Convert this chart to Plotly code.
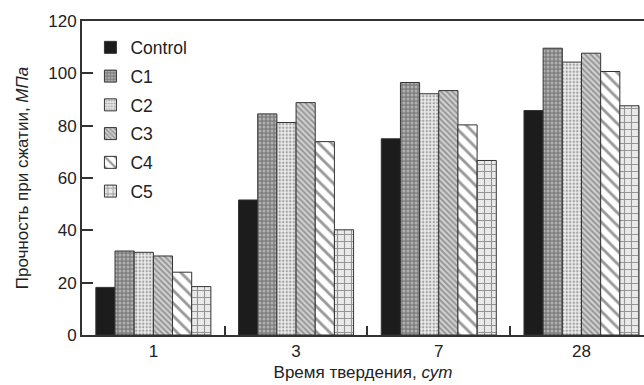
import plotly.graph_objects as go

days = ["1", "3", "7", "28"]
series_names = ["Control", "C1", "C2", "C3", "C4", "C5"]
control = [18.2, 51.6, 75.0, 85.8]
c1 = [32.1, 84.5, 96.5, 109.6]
c2 = [31.6, 81.2, 92.2, 104.3]
c3 = [30.2, 88.8, 93.4, 107.7]
c4 = [24.0, 73.9, 80.3, 100.7]
c5 = [18.5, 40.2, 66.7, 87.6]
values = [control, c1, c2, c3, c4, c5]

y_ticks = [0, 20, 40, 60, 80, 100, 120]

styles = [
    dict(color="#1c1c1c", pattern=None),
    dict(color="#7e7e7e", pattern=dict(shape=".", fgcolor="#e2e2e2", size=4, solidity=0.45, fillmode="overlay")),
    dict(color="#eeeeee", pattern=dict(shape=".", fgcolor="#555555", size=3.5, solidity=0.4, fillmode="overlay")),
    dict(color="#cfcfcf", pattern=dict(shape="\\", fgcolor="#505050", size=4, solidity=0.4, fillmode="overlay")),
    dict(color="#ffffff", pattern=dict(shape="\\", fgcolor="#333333", size=9, solidity=0.32, fillmode="overlay")),
    dict(color="#eaeaea", pattern=dict(shape="+", fgcolor="#404040", size=7, solidity=0.3, fillmode="overlay")),
]

FONT = "Liberation Sans, Arial, sans-serif"

fig = go.Figure()
for name, vals, st in zip(series_names, values, styles):
    marker = dict(color=st["color"], line=dict(color="#333333", width=1))
    if st["pattern"] is not None:
        marker["pattern"] = st["pattern"]
    fig.add_trace(go.Bar(
        x=days, y=vals, name=name, marker=marker,
        legendgroup=name, hoverinfo="skip",
    ))

fig.update_layout(
    width=644, height=385,
    margin=dict(l=82, r=0, t=21, b=50),
    paper_bgcolor="white", plot_bgcolor="white",
    barmode="group", bargap=0.194, bargroupgap=0,
    font=dict(family=FONT, size=17, color="#222222"),
    showlegend=True,
    legend=dict(
        x=0.015, y=0.973, xanchor="left", yanchor="top",
        bgcolor="rgba(0,0,0,0)", font=dict(size=17.5, color="#222222"),
        tracegroupgap=3, itemwidth=30,
    ),
    xaxis=dict(
        type="category", range=[-0.5, 3.438],
        showline=True, linecolor="#333333", linewidth=2, mirror=True,
        ticks="inside", tickson="boundaries", ticklen=9, tickwidth=1.5, tickcolor="#333333",
        showgrid=False, zeroline=False, automargin=False,
        tickfont=dict(size=17),
        title=dict(text="Время твердения, <i>сут</i>", font=dict(size=17), standoff=6),
    ),
    yaxis=dict(
        range=[0, 120], tickvals=y_ticks,
        showline=True, linecolor="#333333", linewidth=2, mirror=False,
        ticks="inside", ticklen=11, tickwidth=1.5, tickcolor="#333333",
        showgrid=False, zeroline=False, automargin=False,
        tickfont=dict(size=17),
        title=dict(text="Прочность при сжатии, <i>МПа</i>", font=dict(size=17), standoff=15),
    ),
)

fig.write_html("out.html")
